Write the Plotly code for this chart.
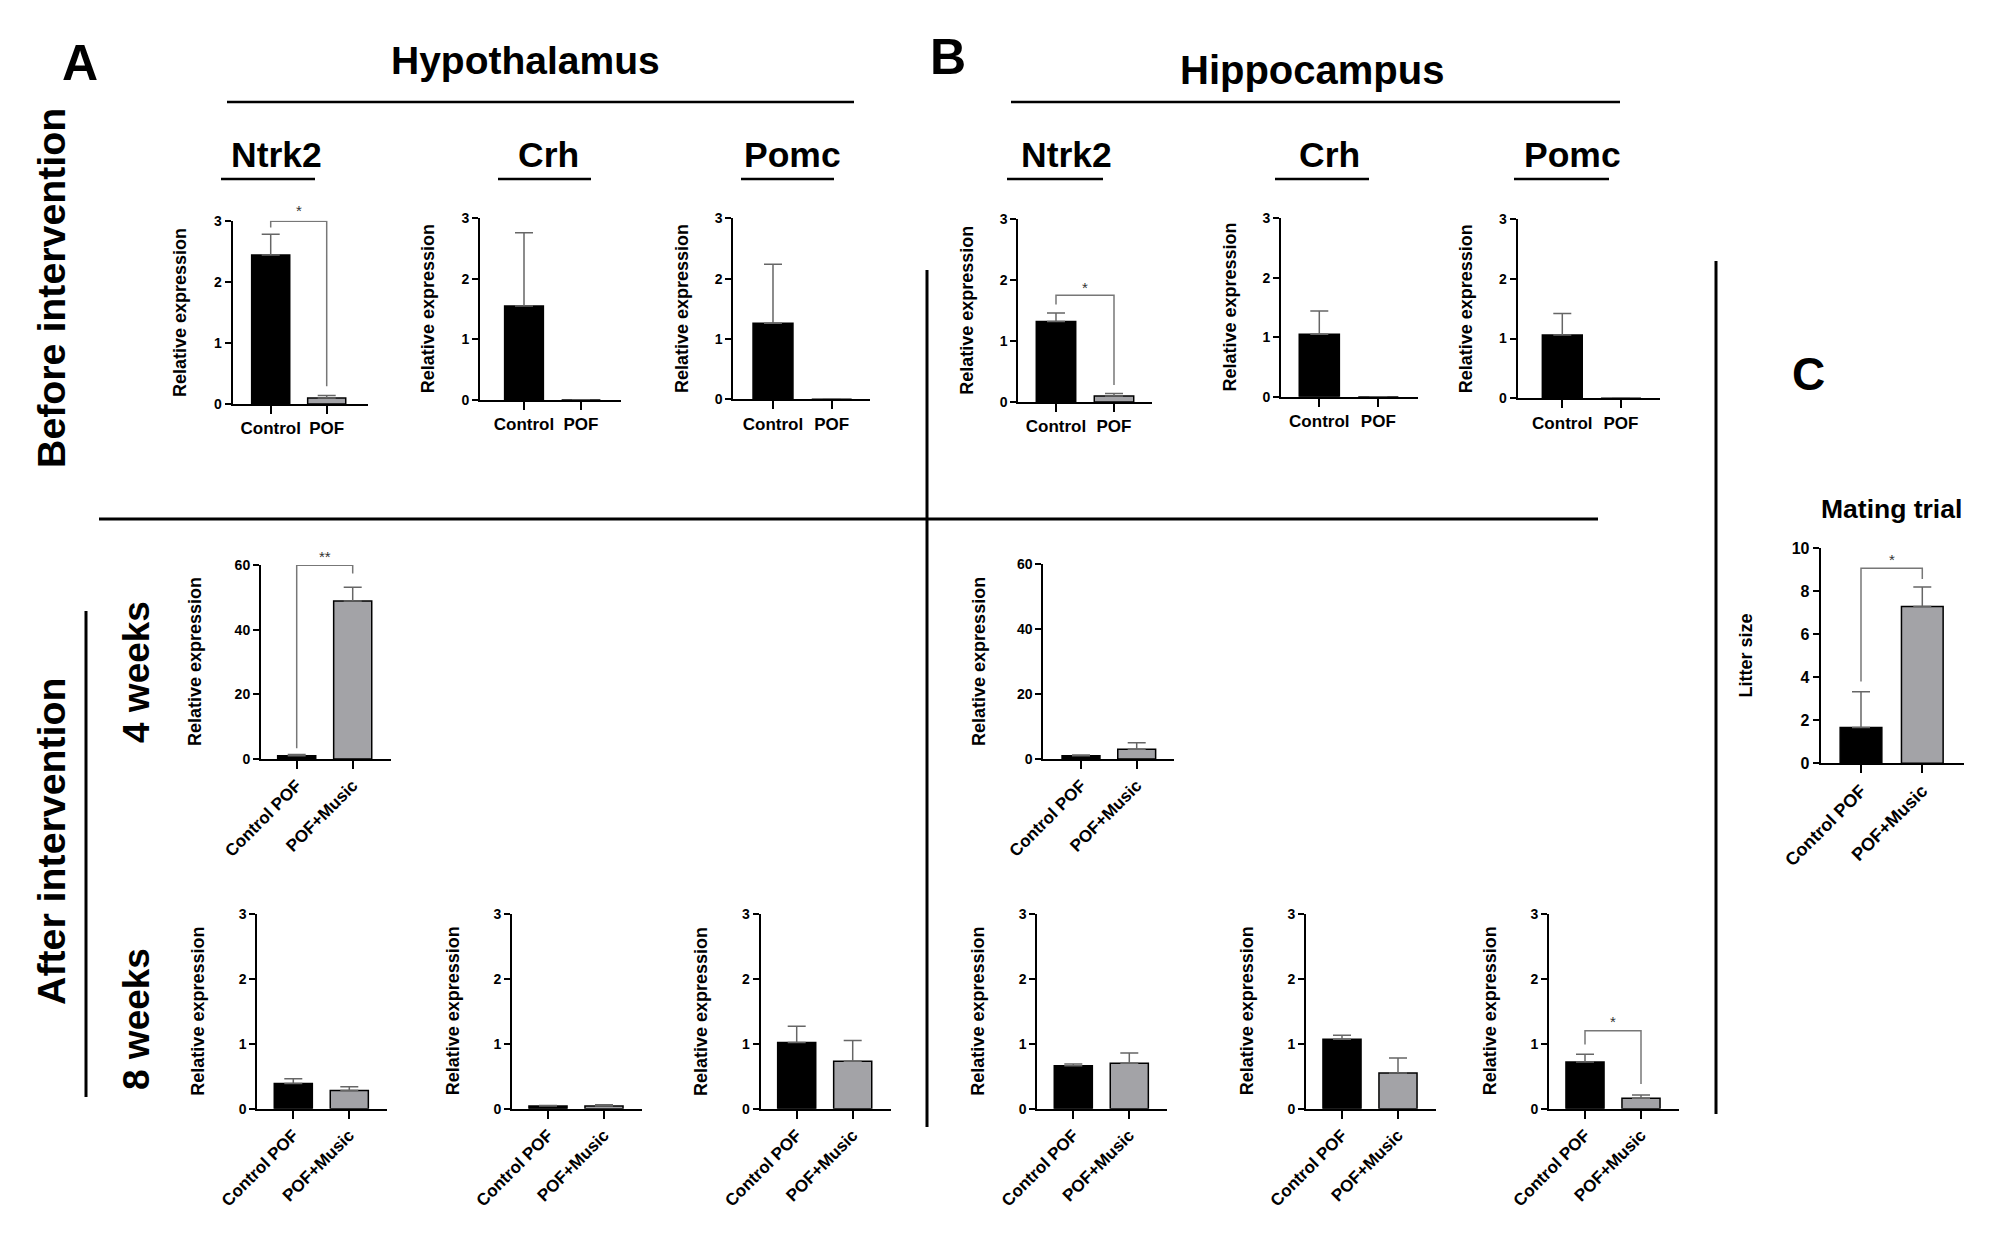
import plotly.graph_objects as go

W, H = 2008, 1251
FONT = "Arial, Liberation Sans, sans-serif"

genes = ["Ntrk2", "Crh", "Pomc"]
regions = ["Hypothalamus", "Hippocampus"]
before_groups = ["Control", "POF"]
after_groups = ["Control POF", "POF+Music"]

# relative expression, [group1, group2] per gene (Ntrk2, Crh, Pomc)
before_hypo_mean = [[2.44, 0.10], [1.55, 0.0], [1.26, 0.0]]
before_hypo_sem = [[0.34, 0.04], [1.21, 0.0], [0.98, 0.0]]
before_hippo_mean = [[1.32, 0.10], [1.05, 0.0], [1.06, 0.0]]
before_hippo_sem = [[0.14, 0.04], [0.39, 0.0], [0.36, 0.0]]

# 4 weeks: Ntrk2 only (hypothalamus, hippocampus)
week4_mean = [[1.0, 48.9], [1.0, 3.0]]
week4_sem = [[0.4, 4.2], [0.2, 2.0]]

week8_hypo_mean = [[0.39, 0.28], [0.04, 0.04], [1.02, 0.73]]
week8_hypo_sem = [[0.07, 0.06], [0.01, 0.02], [0.25, 0.32]]
week8_hippo_mean = [[0.66, 0.70], [1.07, 0.55], [0.72, 0.16]]
week8_hippo_sem = [[0.03, 0.16], [0.06, 0.23], [0.12, 0.05]]

# mating trial
litter_mean = [1.66, 7.29]
litter_sem = [1.67, 0.91]

# significance brackets: left leg end, top, right leg end, label height, label
sig_before_hypo_ntrk2 = [2.89, 2.99, 0.29, 3.16, "*"]
sig_before_hippo_ntrk2 = [1.60, 1.75, 0.28, 1.88, "*"]
sig_week4_hypo_ntrk2 = [3.3, 59.9, 57.4, 62.6, "**"]
sig_week8_hippo_pomc = [0.99, 1.20, 0.38, 1.34, "*"]
sig_litter = [3.8, 9.07, 8.57, 9.46, "*"]

# panel boxes in pixels: y-axis x, first cat x, second cat x, x-axis end, top y, zero y
box_before = [
    (232.7, 270.7, 326.7, 368, 220.7, 404),
    (480, 524, 581, 620.7, 218.3, 400),
    (733.3, 773, 831.7, 870, 218.3, 399.3),
    (1018.3, 1056, 1114, 1152, 219, 402),
    (1281, 1319.3, 1378.3, 1418, 218.3, 396.7),
    (1517.7, 1562.3, 1621, 1660, 219, 398.3),
]
box_week4 = [(261, 296.7, 352.7, 390.7, 565, 759), (1043.3, 1081, 1136.7, 1174, 564.3, 759)]
box_week8 = [
    (257.3, 293.3, 349.3, 387.3, 914, 1108.7),
    (512, 548, 604, 642, 914, 1108.7),
    (760.7, 796.7, 852.7, 890.7, 914, 1108.7),
    (1037.3, 1073.3, 1129.3, 1167.3, 914, 1108.7),
    (1306, 1342, 1398, 1436, 914, 1108.7),
    (1549, 1585, 1641, 1679, 914, 1108.7),
]
box_litter = (1820.7, 1861, 1922.3, 1964, 548.3, 763.3)


def px(x):
    return x / W


def py(y):
    return 1 - y / H


fig = go.Figure()
axes = {}
annotations = []
shapes = []
count = [0]


def bold(size, color="black"):
    return dict(family=FONT, size=size, color=color, weight="bold")


def add_panel(box, mean, sem, groups, ymax, dtick, ytitle, title_dx, angle,
              xfont=17, yfont=14, tfont=18, sig=None):
    count[0] += 1
    sfx = "" if count[0] == 1 else str(count[0])
    xa, ya = "x" + sfx, "y" + sfx
    x0, c0, c1, x1, ytop, yzero = box
    sp = c1 - c0
    fig.add_trace(go.Bar(
        x=[0, 1], y=mean, width=0.68,
        marker=dict(color=["black", "#a3a3a7"], line=dict(color="black", width=1.5)),
        error_y=dict(type="data", symmetric=False, array=sem, arrayminus=[0, 0],
                     color="#666", thickness=1.5, width=9),
        xaxis=xa, yaxis=ya, showlegend=False, hoverinfo="skip"))
    axes["xaxis" + sfx] = dict(
        domain=[px(x0), px(x1)], range=[(x0 - c0) / sp, (x1 - c0) / sp], anchor=ya,
        tickvals=[0, 1], ticktext=groups, tickangle=angle, automargin=False,
        showline=True, linecolor="black", linewidth=2, ticks="outside", ticklen=8,
        tickwidth=2, tickcolor="black", showgrid=False, zeroline=False,
        tickfont=bold(xfont), fixedrange=True)
    axes["yaxis" + sfx] = dict(
        domain=[py(yzero), py(ytop)], range=[0, ymax], anchor=xa, dtick=dtick,
        automargin=False,
        showline=True, linecolor="black", linewidth=2, ticks="outside", ticklen=6,
        tickwidth=2, tickcolor="black", showgrid=False, zeroline=False,
        tickfont=bold(yfont), fixedrange=True)
    annotations.append(dict(
        x=px(x0 - title_dx), y=py((ytop + yzero) / 2), xref="paper", yref="paper",
        text=ytitle, textangle=-90, showarrow=False, font=bold(tfont),
        xanchor="center", yanchor="middle"))
    if sig:
        lo, top, hi, ty, label = sig
        fig.add_trace(go.Scatter(
            x=[0, 0, 1, 1], y=[lo, top, top, hi], mode="lines",
            line=dict(color="#777", width=1.5), xaxis=xa, yaxis=ya,
            showlegend=False, hoverinfo="skip", cliponaxis=False))
        annotations.append(dict(
            x=0.5, y=ty / ymax, xref=xa, yref=ya + " domain", text=label,
            showarrow=False, font=dict(family=FONT, size=15, color="#333"),
            xanchor="center", yanchor="middle"))


rel = "Relative expression"
sig_before = {(0, 0): sig_before_hypo_ntrk2, (1, 0): sig_before_hippo_ntrk2}
for r, (means, sems) in enumerate([(before_hypo_mean, before_hypo_sem),
                                   (before_hippo_mean, before_hippo_sem)]):
    for g in range(3):
        add_panel(box_before[r * 3 + g], means[g], sems[g], before_groups, 3, 1, rel,
                  52, 0, sig=sig_before.get((r, g)))

add_panel(box_week4[0], week4_mean[0], week4_sem[0], after_groups, 60, 20, rel, 66, -45,
          sig=sig_week4_hypo_ntrk2)
add_panel(box_week4[1], week4_mean[1], week4_sem[1], after_groups, 60, 20, rel, 65, -45)

sig_week8 = {(1, 2): sig_week8_hippo_pomc}
for r, (means, sems) in enumerate([(week8_hypo_mean, week8_hypo_sem),
                                   (week8_hippo_mean, week8_hippo_sem)]):
    for g in range(3):
        add_panel(box_week8[r * 3 + g], means[g], sems[g], after_groups, 3, 1, rel,
                  59, -45, sig=sig_week8.get((r, g)))

add_panel(box_litter, litter_mean, litter_sem, after_groups, 10, 2, "Litter size", 75, -45,
          xfont=18, yfont=16, tfont=18, sig=sig_litter)


def text(x, y, s, size, angle=0):
    annotations.append(dict(x=px(x), y=py(y), xref="paper", yref="paper", text=s,
                            textangle=angle, showarrow=False, font=bold(size),
                            xanchor="center", yanchor="middle"))


def line(xa, ya, xb, yb, w=2.5):
    shapes.append(dict(type="line", xref="paper", yref="paper", x0=px(xa), y0=py(ya),
                       x1=px(xb), y1=py(yb), line=dict(color="black", width=w)))


# panel letters and headers
text(80, 63, "A", 50)
text(948, 57, "B", 50)
text(1808, 374, "C", 46)
text(525, 61, regions[0], 39)
text(1312, 70, regions[1], 40)
line(227, 102, 854, 102)
line(1011, 102, 1620, 102)

hypo_gene_x = [(276, 221, 315), (548, 498, 591), (792, 741, 834)]
hippo_gene_x = [(1066, 1007, 1103), (1329, 1275, 1369), (1572, 1514, 1609)]
for g, (cx, la, lb) in enumerate(hypo_gene_x):
    text(cx, 155, genes[g], 35.5)
    line(la, 179, lb, 179)
for g, (cx, la, lb) in enumerate(hippo_gene_x):
    text(cx, 155, genes[g], 35.5)
    line(la, 179, lb, 179)

text(1891.7, 509, "Mating trial", 26.5)

# row labels
text(51, 288, "Before intervention", 39.3, -90)
text(51, 841, "After intervention", 39.3, -90)
text(136, 672, "4 weeks", 37, -90)
text(136, 1019, "8 weeks", 37, -90)

# separators
line(99, 519, 1598, 519, 3)
line(927, 270, 927, 1127, 3)
line(1716, 261, 1716, 1114, 3)
line(86, 611, 86, 1097, 3)

fig.update_layout(
    template="none",
    width=W, height=H, margin=dict(l=0, r=0, t=0, b=0, autoexpand=False),
    paper_bgcolor="white", plot_bgcolor="white", showlegend=False,
    annotations=annotations, shapes=shapes, **axes)

fig.write_html("out.html", config={"displayModeBar": False},
               post_script="document.body.style.margin='0';")
